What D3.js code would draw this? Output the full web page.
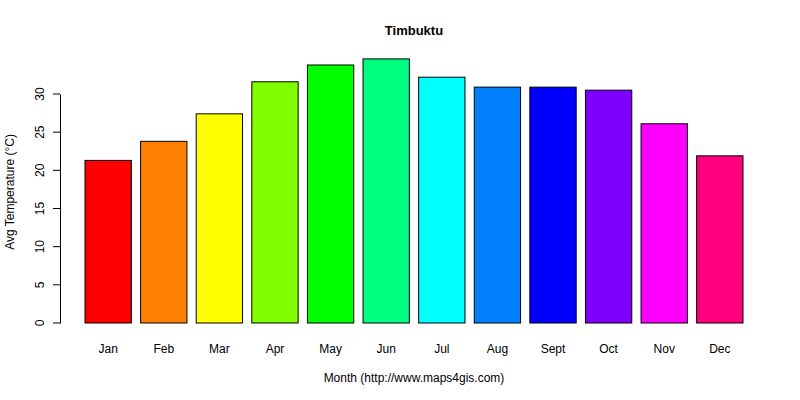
<!DOCTYPE html>
<html><head><meta charset="utf-8">
<script src="https://cdn.jsdelivr.net/npm/d3@7"></script>
<style>body{margin:0;background:#fff}text{font-family:"Liberation Sans",Arial,sans-serif}</style>
</head><body><svg id="c" width="800" height="400"></svg>
<script>
const months=["Jan","Feb","Mar","Apr","May","Jun","Jul","Aug","Sept","Oct","Nov","Dec"];
const temps=[21.3,23.8,27.4,31.6,33.8,34.6,32.2,30.9,30.9,30.5,26.1,21.9];
const colors=["#FF0000","#FF8000","#FFFF00","#80FF00","#00FF00","#00FF80","#00FFFF","#0080FF","#0000FF","#8000FF","#FF00FF","#FF0080"];
const yTicks=[0,5,10,15,20,25,30];
const svg=d3.select("#c");
const x=d3.scaleBand().domain(months).range([85,743]).paddingInner(0.2/1.2).paddingOuter(0);
const y=d3.scaleLinear().domain([0,30]).range([323,94]);
svg.selectAll("rect").data(temps).join("rect")
 .attr("x",(d,i)=>x(months[i])).attr("width",x.bandwidth())
 .attr("y",d=>y(d)).attr("height",d=>y(0)-y(d))
 .attr("fill",(d,i)=>colors[i]).attr("stroke","#000").attr("stroke-width",1);
const ya=svg.append("g").attr("transform","translate(60,0)")
 .call(d3.axisLeft(y).tickValues(yTicks).tickSize(7).tickSizeOuter(0));
ya.select(".domain").attr("stroke","#000");
ya.selectAll("text").attr("font-size",12).attr("fill","#000").attr("transform","rotate(-90)")
 .attr("x",0).attr("dx",null).attr("y",-12).attr("dy",null).attr("text-anchor","middle")
 .each(function(d){d3.select(this).attr("transform",`translate(-16,${y(d)}) rotate(-90)`).attr("x",0).attr("y",0);});
ya.selectAll(".tick").attr("transform",null);
ya.selectAll(".tick line").attr("y1",d=>y(d)).attr("y2",d=>y(d));
svg.append("g").selectAll("text").data(months).join("text")
 .attr("x",d=>x(d)+x.bandwidth()/2).attr("y",353).attr("text-anchor","middle")
 .attr("font-size",12).text(d=>d);
svg.append("text").attr("x",414).attr("y",35).attr("text-anchor","middle").attr("font-weight","bold").attr("font-size",13).text("Timbuktu");
svg.append("text").attr("x",414).attr("y",382).attr("text-anchor","middle").attr("font-size",12).text("Month (http://www.maps4gis.com)");
svg.append("text").attr("transform","translate(14,192) rotate(-90)").attr("text-anchor","middle").attr("font-size",12).text("Avg Temperature (°C)");
</script></body></html>
